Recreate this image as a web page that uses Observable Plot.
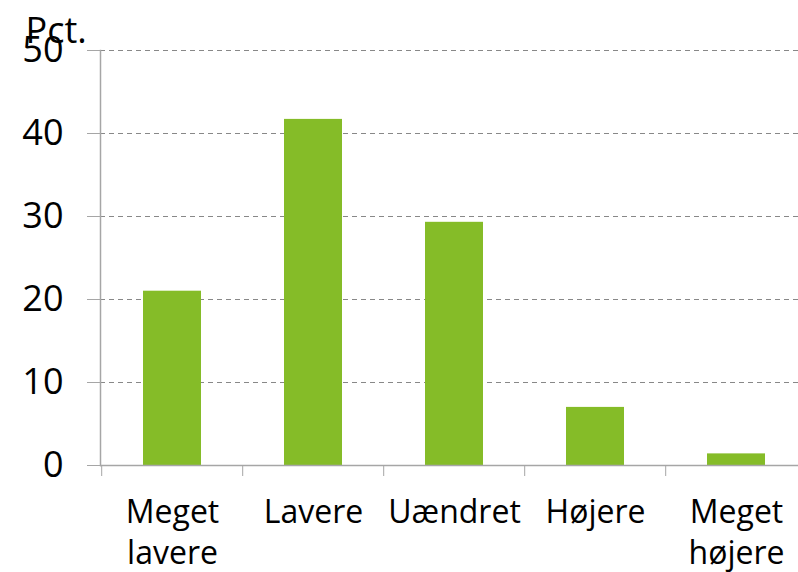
<!DOCTYPE html>
<html>
<head>
<meta charset="utf-8">
<script src="https://cdn.jsdelivr.net/npm/d3@7"></script>
<script src="https://cdn.jsdelivr.net/npm/@observablehq/plot@0.6"></script>
<style>
  body { margin: 0; background: #fff; }
  svg { font-family: "Open Sans", sans-serif; }
</style>
</head>
<body>
<div id="chart"></div>
<script>
const categories = ["Meget lavere", "Lavere", "Uændret", "Højere", "Meget højere"];
const labels = ["Meget\nlavere", "Lavere", "Uændret", "Højere", "Meget\nhøjere"];
const values = [21.0, 41.7, 29.3, 7.0, 1.4];
const yTicks = [0, 10, 20, 30, 40, 50];
const unitLabel = "Pct.";

const data = categories.map((c, i) => ({category: c, value: values[i]}));
const W = 798, H = 572;
const left = 100, xRight = 808;
const step = (xRight - left) / categories.length;
const gray = "#a6a6a6";

const chart = Plot.plot({
  width: W,
  height: H,
  marginLeft: left,
  marginRight: 0,
  marginTop: 50,
  marginBottom: 107,
  style: {fontFamily: "'Open Sans', sans-serif", color: "#000", background: "#fff"},
  x: {type: "band", domain: categories, range: [left, xRight], paddingInner: 0.59, paddingOuter: 0.295, align: 0.5},
  y: {domain: [0, 50]},
  marks: [
    Plot.gridY(yTicks.filter(d => d > 0), {stroke: "#888", strokeOpacity: 1, strokeDasharray: "5,4", strokeWidth: 1}),
    Plot.barY(data, {x: "category", y: "value", fill: "#85bc28"}),
    Plot.frame({anchor: "left", stroke: gray, strokeWidth: 1.5}),
    Plot.ruleY([0], {stroke: gray, strokeWidth: 1.5}),
    Plot.axisY({ticks: yTicks, tickSize: 13, tickPadding: 24, stroke: gray, fontSize: 36, label: null}),
    Plot.axisX({tickSize: 11, tickFormat: () => "", stroke: gray, dx: -step / 2, label: null}),
    Plot.axisX({tickSize: 0, tickPadding: 28, fontSize: 32, lineHeight: 1.28, label: null,
      tickFormat: d => labels[categories.indexOf(d)]}),
    Plot.text([unitLabel], {frameAnchor: "top-left", textAnchor: "start", lineAnchor: "bottom", dx: -75, dy: -8, fontSize: 36, fill: "#000"})
  ]
});
document.getElementById("chart").append(chart);
</script>
</body>
</html>
